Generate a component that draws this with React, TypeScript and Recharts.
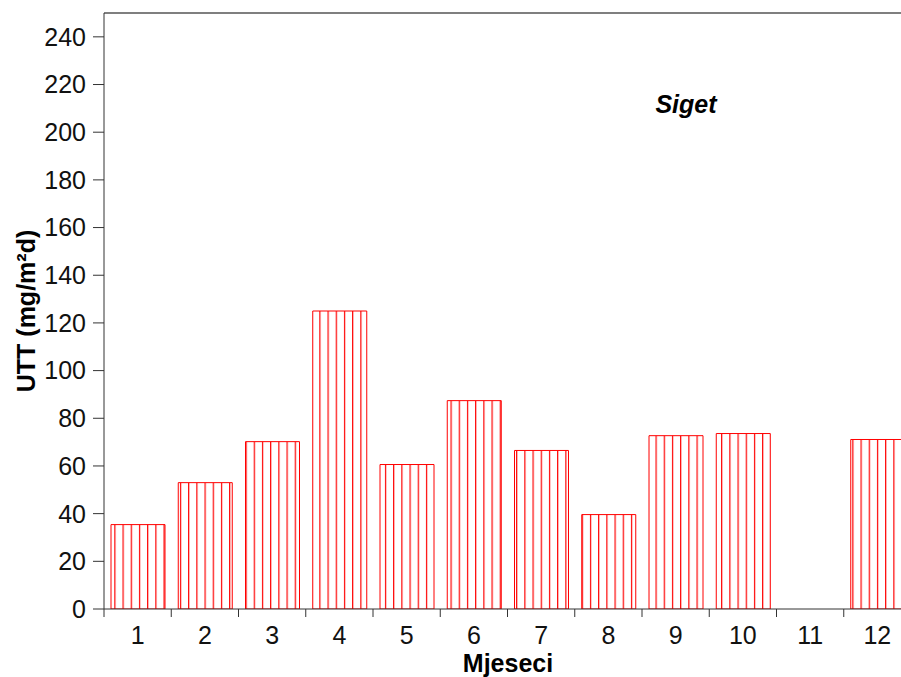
import React from 'react';
import { BarChart, Bar, XAxis, YAxis, ReferenceLine, Label } from 'recharts';

const months = ['1', '2', '3', '4', '5', '6', '7', '8', '9', '10', '11', '12'];
const uttValues = [35.4, 53.0, 70.2, 125.0, 60.6, 87.4, 66.5, 39.6, 72.7, 73.6, 0, 71.1];
const yTicks = [0, 20, 40, 60, 80, 100, 120, 140, 160, 180, 200, 220, 240];

const FONT = '"Liberation Sans", Arial, sans-serif';
const RED = '#ff0000';

const data = months.map((m, i) => ({ month: m, utt: uttValues[i] }));

// labels centred in the band, tick marks on the band edges
const MonthTick = (props: any) => {
  const { x, y, payload } = props;
  const half = payload && payload.offset ? payload.offset : 807 / 24;
  const left = x - half;
  return (
    <g>
      <line x1={left} y1={y} x2={left} y2={y + 8} stroke="#333" strokeWidth={1} />
      <text x={x} y={y + 35} textAnchor="middle" fontSize={25} fontFamily={FONT} fill="#111">
        {payload.value}
      </text>
    </g>
  );
};

const YTitle = (props: any) => {
  const vb = props.viewBox || { x: 0, y: 0, width: 96, height: 596 };
  const cx = vb.x + 18;
  const cy = vb.y + vb.height / 2;
  return (
    <text
      x={cx}
      y={cy}
      transform={`rotate(-90 ${cx} ${cy})`}
      textAnchor="middle"
      dominantBaseline="central"
      fontSize={25}
      fontWeight="bold"
      fontFamily={FONT}
      fill="#000"
    >
      UTT (mg/m²d)
    </text>
  );
};

const XTitle = (props: any) => {
  const vb = props.viewBox || { x: 96, y: 601, width: 807, height: 71 };
  return (
    <text
      x={508 - 8}
      y={vb.y + 63}
      textAnchor="middle"
      fontSize={25}
      fontWeight="bold"
      fontFamily={FONT}
      fill="#000"
    >
      Mjeseci
    </text>
  );
};

const SiteTitle = () => (
  <text
    x={678}
    y={105}
    textAnchor="middle"
    fontSize={25}
    fontWeight="bold"
    fontStyle="italic"
    fontFamily={FONT}
    fill="#000"
  >
    Siget
  </text>
);

export default function App() {
  return (
    <div style={{ position: 'fixed', left: 0, top: 0, width: 901, height: 677, overflow: 'hidden', background: '#fff' }}>
      <div style={{ marginLeft: 8, marginTop: 8 }}>
        <BarChart
          width={903}
          height={672}
          data={data}
          margin={{ top: 5, right: 0, bottom: 0, left: 0 }}
        >
          <defs>
            <pattern id="hatch" patternUnits="userSpaceOnUse" x={106.3} y={0} width={8.2} height={10}>
              <line x1={0.6} y1={0} x2={0.6} y2={10} stroke={RED} strokeWidth={1.2} />
            </pattern>
          </defs>
          <XAxis
            dataKey="month"
            height={71}
            tickSize={0}
            tickMargin={0}
            tickLine={false}
            axisLine={{ stroke: '#333', strokeWidth: 1 }}
            tick={<MonthTick />}
            interval={0}
          >
            <Label content={<XTitle />} />
          </XAxis>
          <YAxis
            width={96}
            domain={[0, 250]}
            ticks={yTicks}
            interval={0}
            tickSize={11}
            tickMargin={7}
            tickLine={{ stroke: '#333' }}
            axisLine={{ stroke: '#333', strokeWidth: 1 }}
            tick={{ fontSize: 25, fontFamily: FONT, fill: '#111' }}
            allowDataOverflow
          >
            <Label content={<YTitle />} />
          </YAxis>
          <ReferenceLine y={250} stroke="#000" strokeWidth={1.2} label={<SiteTitle />} />
          <Bar
            dataKey="utt"
            barSize={54}
            fill="url(#hatch)"
            stroke={RED}
            strokeWidth={1}
            isAnimationActive={false}
          />
        </BarChart>
      </div>
    </div>
  );
}
